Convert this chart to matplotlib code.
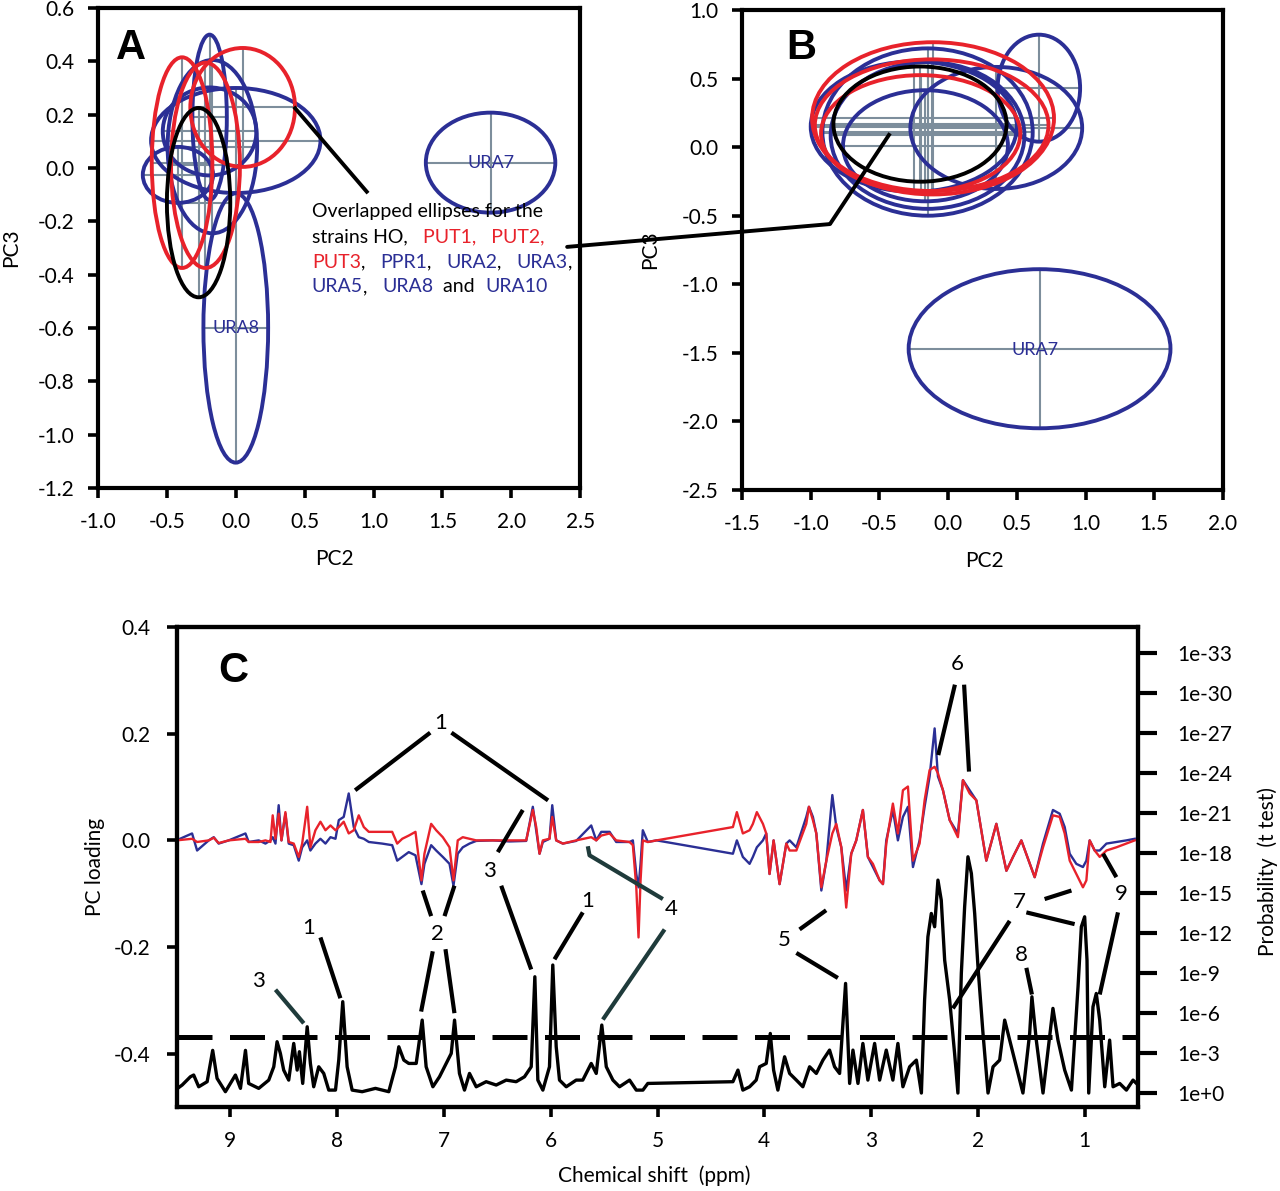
import matplotlib
matplotlib.use("Agg")
import matplotlib.pyplot as plt
from matplotlib.patches import Ellipse, ConnectionPatch
from matplotlib.ticker import FormatStrFormatter

plt.rcParams['font.family'] = ['Lato', 'DejaVu Sans']
plt.rcParams['axes.unicode_minus'] = False

BLUE = '#2b2f95'
RED = '#e8222b'
GREY = '#7d8e9c'
TEAL = '#1f3b3b'

# --- PCA score ellipses (centre, width, height) -----------------------------
strains = ["URA2", "URA3", "URA5", "URA10", "PPR1", "URA8", "URA7",
           "PUT1", "PUT2", "PUT3", "HO"]
strain_col = [BLUE] * 7 + [RED] * 3 + ['black']

# panel A: PC2 vs PC3
a_cx = [0.00, -0.17, -0.42, -0.19, -0.19, 0.00, 1.85, 0.05, -0.39, -0.22, -0.27]
a_cy = [0.103, 0.08, -0.026, 0.137, 0.19, -0.60, 0.02, 0.227, 0.02, 0.01, -0.13]
a_w = [1.23, 0.65, 0.51, 0.68, 0.25, 0.47, 0.94, 0.76, 0.44, 0.50, 0.46]
a_h = [0.394, 0.65, 0.21, 0.33, 0.62, 1.01, 0.375, 0.446, 0.79, 0.77, 0.71]

# panel B: PC2 vs PC3 (second model)
b_cx = [0.35, -0.15, -0.15, -0.25, 0.66, -0.165, 0.665, -0.11, -0.12, -0.20, -0.205]
b_cy = [0.14, 0.11, 0.085, 0.15, 0.43, 0.01, -1.47, 0.21, 0.16, 0.10, 0.168]
b_w = [1.25, 1.53, 1.41, 1.50, 0.60, 1.20, 1.905, 1.76, 1.70, 1.45, 1.26]
b_h = [0.89, 1.22, 1.07, 0.95, 0.78, 0.81, 1.16, 1.11, 0.96, 0.85, 0.84]

a_xticks = [-1.0, -0.5, 0.0, 0.5, 1.0, 1.5, 2.0, 2.5]
a_yticks = [-1.2, -1.0, -0.8, -0.6, -0.4, -0.2, 0.0, 0.2, 0.4, 0.6]
b_xticks = [-1.5, -1.0, -0.5, 0.0, 0.5, 1.0, 1.5, 2.0]
b_yticks = [-2.5, -2.0, -1.5, -1.0, -0.5, 0.0, 0.5, 1.0]

# --- panel C: PC loadings ---------------------------------------------------
ppm_load = [9.506, 9.359, 9.312, 9.203, 9.156, 9.110, 9.016, 8.859, 8.829, 8.735,
            8.672, 8.625, 8.604, 8.578, 8.548, 8.522, 8.485, 8.454, 8.407, 8.360,
            8.328, 8.281, 8.251, 8.204, 8.157, 8.110, 8.063, 8.016, 7.985, 7.939,
            7.892, 7.845, 7.798, 7.751, 7.704, 7.579, 7.485, 7.438, 7.391, 7.330,
            7.267, 7.211, 7.183, 7.120, 7.073, 7.011, 6.948, 6.911, 6.871, 6.824,
            6.761, 6.698, 6.543, 6.386, 6.230, 6.168, 6.136, 6.105, 6.074, 6.012,
            5.986, 5.949, 5.887, 5.762, 5.621, 5.574, 5.527, 5.449, 5.387, 5.262,
            5.231, 5.199, 5.178, 5.159, 5.138, 5.091, 5.009, 4.294, 4.257, 4.201,
            4.138, 4.107, 4.070, 4.013, 3.982, 3.951, 3.913, 3.857, 3.794, 3.763,
            3.700, 3.607, 3.582, 3.545, 3.513, 3.466, 3.419, 3.363, 3.326, 3.279,
            3.233, 3.186, 3.139, 3.077, 3.030, 2.983, 2.920, 2.889, 2.858, 2.796,
            2.749, 2.702, 2.655, 2.608, 2.546, 2.499, 2.452, 2.405, 2.374, 2.327,
            2.264, 2.187, 2.140, 2.077, 2.014, 1.921, 1.827, 1.733, 1.671, 1.593,
            1.468, 1.390, 1.297, 1.234, 1.187, 1.140, 1.078, 1.016, 0.984, 0.953,
            0.906, 0.859, 0.796, 0.703, 0.609, 0.531]
load_blue = [0, 0.013, -0.019, 0, 0.006, -0.006, 0, 0.013, -0.003, 0,
             -0.006, 0, 0.006, -0.006, 0.066, 0, 0.050, -0.006, -0.009, -0.038,
             -0.013, 0, -0.019, -0.006, 0.003, -0.006, 0.006, 0.003, 0.038, 0.044,
             0.088, 0.025, 0.006, 0.003, -0.003, -0.006, -0.009, -0.038, -0.031, -0.022,
             -0.028, -0.082, -0.044, -0.009, -0.019, -0.031, -0.044, -0.085, -0.025, -0.013,
             -0.006, -0.001, 0, -0.002, -0.001, 0.063, 0.019, -0.025, -0.003, 0.003,
             0.066, 0, -0.006, -0.001, 0.028, 0, 0.016, 0.016, -0.003, -0.003,
             0, -0.063, -0.088, -0.044, 0.019, -0.003, 0, -0.025, 0, -0.031,
             -0.044, -0.031, -0.013, 0, 0.013, -0.063, 0, -0.082, -0.006, 0,
             -0.013, 0.044, 0.063, 0.044, 0.013, -0.094, -0.038, 0.085, 0.025, -0.013,
             -0.094, -0.025, 0, 0.057, -0.031, -0.050, -0.075, -0.082, 0, 0.057,
             0, 0.044, 0.063, -0.050, 0, 0.063, 0.120, 0.210, 0.120, 0.094,
             0.038, 0.013, 0.113, 0.094, 0.075, -0.038, 0.031, -0.057, -0.031, 0,
             -0.069, -0.006, 0.057, 0.050, 0.025, -0.025, -0.044, -0.050, -0.038, 0,
             -0.019, -0.019, -0.006, -0.003, 0, 0.003]
load_red = [0, 0.003, -0.003, 0, 0.005, -0.005, 0, 0.003, -0.003, -0.003,
            0, -0.003, 0.047, 0.003, 0.050, 0, 0.053, -0.003, -0.006, -0.031,
            -0.006, 0.063, -0.013, 0.019, 0.035, 0.019, 0.028, 0.019, 0.025, 0.035,
            0.013, 0.019, 0.047, 0.025, 0.016, 0.016, 0.016, -0.006, 0.003, 0.009,
            0.016, -0.075, -0.025, 0.031, 0.019, 0.006, -0.013, -0.075, 0, 0.006,
            0.003, 0, 0, 0, 0, 0.057, 0.025, -0.025, 0, 0.003,
            0.044, 0, -0.006, 0, 0.006, 0, 0.009, 0.013, 0, -0.003,
            -0.009, -0.088, -0.182, -0.075, 0, -0.003, 0, 0.025, 0.053, 0.013,
            0.019, 0.031, 0.053, 0.031, 0.013, -0.063, 0, -0.082, -0.006, -0.019,
            -0.019, 0.031, 0.063, 0.038, 0.013, -0.088, -0.038, 0.013, 0.031, -0.013,
            -0.126, -0.025, 0, 0.057, -0.031, -0.044, -0.075, -0.082, -0.006, 0.069,
            0.013, 0.094, 0.101, -0.038, -0.006, 0.075, 0.132, 0.138, 0.126, 0.094,
            0.038, 0.006, 0.113, 0.088, 0.075, -0.038, 0.031, -0.057, -0.031, 0,
            -0.069, -0.013, 0.047, 0.044, 0.013, -0.038, -0.063, -0.088, -0.075, 0,
            -0.019, -0.031, -0.019, -0.013, -0.006, 0]

# --- panel C: t-test probability, as -log10(p) -------------------------------
ppm_p = [9.515, 9.452, 9.375, 9.344, 9.297, 9.218, 9.166, 9.125, 9.047, 8.953,
         8.906, 8.859, 8.829, 8.735, 8.641, 8.594, 8.563, 8.532, 8.501, 8.454,
         8.407, 8.375, 8.354, 8.323, 8.281, 8.251, 8.220, 8.173, 8.126, 8.079,
         8.016, 7.985, 7.948, 7.907, 7.860, 7.766, 7.642, 7.517, 7.454, 7.423,
         7.376, 7.330, 7.260, 7.204, 7.167, 7.104, 7.042, 6.979, 6.932, 6.901,
         6.855, 6.808, 6.761, 6.698, 6.605, 6.511, 6.417, 6.324, 6.246, 6.183,
         6.149, 6.121, 6.074, 6.012, 5.981, 5.949, 5.918, 5.855, 5.762, 5.700,
         5.621, 5.574, 5.522, 5.480, 5.418, 5.356, 5.262, 5.199, 5.137, 5.091,
         4.294, 4.247, 4.201, 4.138, 4.076, 4.044, 3.982, 3.944, 3.913, 3.873,
         3.810, 3.763, 3.700, 3.639, 3.576, 3.513, 3.451, 3.389, 3.342, 3.295,
         3.239, 3.201, 3.170, 3.123, 3.077, 3.030, 2.967, 2.920, 2.858, 2.796,
         2.749, 2.702, 2.639, 2.576, 2.529, 2.499, 2.468, 2.436, 2.405, 2.374,
         2.343, 2.311, 2.264, 2.218, 2.187, 2.155, 2.124, 2.093, 2.061, 2.030,
         1.999, 1.952, 1.905, 1.858, 1.796, 1.749, 1.702, 1.640, 1.578, 1.515,
         1.494, 1.453, 1.390, 1.297, 1.250, 1.187, 1.124, 1.062, 1.031, 1.000,
         0.978, 0.962, 0.922, 0.891, 0.859, 0.812, 0.766, 0.734, 0.672, 0.609,
         0.547, 0.515]
neg_log_p = [0.23, 0.6, 1.22, 1.35, 0.47, 0.85, 3.2, 1.1, 0.1, 1.35,
             0.35, 3.2, 0.72, 0.35, 0.97, 1.97, 3.85, 2.97, 1.72, 0.97,
             3.72, 1.72, 3.1, 0.72, 4.97, 2.22, 0.47, 1.97, 1.47, 0.22,
             0.22, 2.5, 6.85, 1.97, 0.22, 0.1, 0.35, 0.1, 1.97, 3.47,
             2.47, 2.22, 2.22, 5.47, 1.97, 0.47, 1.22, 2.22, 2.97, 5.47,
             1.47, 0.22, 1.47, 0.47, 0.85, 0.6, 0.97, 0.85, 1.22, 1.97,
             8.72, 0.97, 0.22, 1.97, 9.6, 3.47, 0.97, 0.47, 0.97, 0.97,
             2.22, 1.47, 5.1, 1.97, 0.97, 0.47, 0.97, 0.22, 0.22, 0.72,
             0.85, 1.72, 0.22, 0.47, 0.97, 1.97, 2.22, 4.47, 1.72, 0.22,
             2.72, 1.47, 0.97, 0.47, 1.97, 1.47, 2.47, 3.22, 1.97, 1.47,
             8.22, 0.72, 3.22, 0.72, 3.72, 0.97, 3.72, 0.97, 3.22, 0.97,
             3.72, 0.47, 1.97, 2.47, 0.0, 6.97, 11.72, 13.47, 12.47, 15.97,
             14.47, 9.97, 6.97, 2.97, 0.0, 8.97, 13.97, 17.72, 16.47, 13.47,
             9.47, 4.47, 0.0, 1.97, 2.47, 5.47, 3.97, 1.97, 0.0, 4.47,
             7.22, 3.97, 0.0, 6.35, 3.97, 1.72, 0.22, 7.97, 12.47, 13.22,
             9.97, 0.0, 6.47, 7.47, 5.47, 0.47, 3.97, 0.47, 0.72, 0.22,
             0.97, 0.72]
p_threshold = 4.2   # -log10(p) of the dashed significance line

# peak labels in panel C (ppm, loading)
peak_labels = ["1", "2", "3", "1", "4", "3", "1", "5", "6", "7", "8", "9"]
peak_lab_x = [7.033, 7.062, 6.574, 5.653, 4.872, 8.735, 8.267, 3.810, 2.197, 1.609, 1.593, 0.656]
peak_lab_y = [0.221, -0.176, -0.057, -0.113, -0.129, -0.264, -0.164, -0.186, 0.330, -0.116, -0.214, -0.101]
# leader lines (x0, y0, x1, y1) in ppm / loading
leaders = [(7.129, 0.202, 7.832, 0.094), (6.930, 0.202, 6.025, 0.075),
           (7.199, -0.094, 7.120, -0.142), (6.902, -0.085, 6.995, -0.142),
           (7.105, -0.208, 7.214, -0.321), (6.986, -0.204, 6.902, -0.324),
           (6.262, 0.057, 6.496, -0.022), (6.464, -0.085, 6.183, -0.242),
           (5.700, -0.135, 5.965, -0.223), (8.157, -0.182, 7.970, -0.296),
           (3.670, -0.167, 3.421, -0.131), (3.700, -0.211, 3.311, -0.258),
           (2.215, 0.292, 2.371, 0.160), (2.129, 0.292, 2.083, 0.129),
           (1.375, -0.110, 1.124, -0.094), (1.546, -0.135, 1.094, -0.157),
           (1.702, -0.151, 2.234, -0.315), (1.546, -0.239, 1.494, -0.289),
           (0.828, -0.025, 0.703, -0.069), (0.688, -0.135, 0.859, -0.289)]
teal_leaders = [([4.950, 5.637, 5.653], [-0.110, -0.028, -0.011]),
                ([4.934, 5.512], [-0.167, -0.336]),
                ([8.578, 8.313], [-0.280, -0.343])]


def draw_ellipses(ax, cx, cy, w, h):
    for x, y, ww, hh in zip(cx, cy, w, h):
        ax.plot([x - ww / 2, x + ww / 2], [y, y], color=GREY, lw=1.5, zorder=1)
        ax.plot([x, x], [y - hh / 2, y + hh / 2], color=GREY, lw=1.5, zorder=1)
    for x, y, ww, hh, c in zip(cx, cy, w, h, strain_col):
        ax.add_patch(Ellipse((x, y), ww, hh, fill=False, ec=c, lw=2.8, zorder=2))


def style_box(ax):
    for s in ax.spines.values():
        s.set_linewidth(3.0)
    ax.tick_params(direction='out', length=7, width=2.6, labelsize=15, pad=10)


def colored_line(ax, x, y, parts, size=14):
    t = ax.text(x, y, parts[0][0], color=parts[0][1], fontsize=size,
                va='center', ha='left', zorder=6)
    for s, c in parts[1:]:
        t = ax.annotate(s, xy=(1, 0), xycoords=t, va='bottom', ha='left',
                        color=c, fontsize=size, zorder=6)
    return t


fig = plt.figure(figsize=(12.8, 11.91), dpi=100)

# ---------------- panel A ----------------
axA = fig.add_axes([0.0766, 0.5903, 0.3766, 0.4030])
draw_ellipses(axA, a_cx, a_cy, a_w, a_h)
axA.set_xlim(-1.0, 2.5)
axA.set_ylim(-1.2, 0.6)
axA.set_xticks(a_xticks)
axA.set_yticks(a_yticks)
axA.xaxis.set_major_formatter(FormatStrFormatter('%.1f'))
axA.yaxis.set_major_formatter(FormatStrFormatter('%.1f'))
style_box(axA)
axA.set_xlabel("PC2", fontsize=15)
axA.set_ylabel("PC3", fontsize=15)
axA.xaxis.set_label_coords(0.49, -0.128)
axA.yaxis.set_label_coords(-0.160, 0.5)
axA.text(0.068, 0.917, "A", transform=axA.transAxes, fontsize=30, fontweight='bold',
         family='Liberation Sans', ha='center', va='center')
i7 = strains.index("URA7")
i8 = strains.index("URA8")
axA.text(a_cx[i7], a_cy[i7], "URA7", color=BLUE, fontsize=13, ha='center', va='center', zorder=3)
axA.text(a_cx[i8], a_cy[i8], "URA8", color=BLUE, fontsize=13, ha='center', va='center', zorder=3)

axA.plot([0.431, 0.951], [0.224, -0.089], color='k', lw=2.8, zorder=5)
colored_line(axA, 0.552, -0.165, [("Overlapped ellipses for the", 'k')])
colored_line(axA, 0.552, -0.259, [("strains HO,   ", 'k'), ("PUT1,   PUT2,", RED)])
colored_line(axA, 0.552, -0.353, [("PUT3", RED), (",   ", 'k'), ("PPR1", BLUE), (",   ", 'k'),
                                  ("URA2", BLUE), (",   ", 'k'), ("URA3", BLUE), (",", 'k')])
colored_line(axA, 0.552, -0.446, [("URA5", BLUE), (",   ", 'k'), ("URA8", BLUE),
                                  ("  and  ", 'k'), ("URA10", BLUE)])

# ---------------- panel B ----------------
axB = fig.add_axes([0.5797, 0.5886, 0.3758, 0.4030])
draw_ellipses(axB, b_cx, b_cy, b_w, b_h)
axB.set_xlim(-1.5, 2.0)
axB.set_ylim(-2.5, 1.0)
axB.set_xticks(b_xticks)
axB.set_yticks(b_yticks)
axB.xaxis.set_major_formatter(FormatStrFormatter('%.1f'))
axB.yaxis.set_major_formatter(FormatStrFormatter('%.1f'))
style_box(axB)
axB.set_xlabel("PC2", fontsize=15)
axB.set_ylabel("PC3", fontsize=15)
axB.xaxis.set_label_coords(0.505, -0.128)
axB.yaxis.set_label_coords(-0.170, 0.5)
axB.text(0.123, 0.921, "B", transform=axB.transAxes, fontsize=30, fontweight='bold',
         family='Liberation Sans', ha='center', va='center')
axB.text(b_cx[i7] - 0.03, b_cy[i7] - 0.01, "URA7", color=BLUE, fontsize=13,
         ha='center', va='center', zorder=3)

# leader from the note in A to the overlapped cluster in B
con = ConnectionPatch(xyA=(2.406, -0.296), coordsA=axA.transData,
                      xyB=(-0.86, -0.561), coordsB=axB.transData,
                      color='k', lw=2.8, zorder=6)
fig.add_artist(con)
axB.plot([-0.86, -0.423], [-0.561, 0.101], color='k', lw=2.8, zorder=5,
         solid_capstyle='butt')

# ---------------- panel C ----------------
axC = fig.add_axes([0.1383, 0.0705, 0.7508, 0.4030])
axC.plot(ppm_load, load_blue, color=BLUE, lw=1.7, zorder=3)
axC.plot(ppm_load, load_red, color=RED, lw=1.7, zorder=3)
axC.set_xlim(9.5, 0.5)
axC.set_ylim(-0.5, 0.4)
axC.set_xticks(range(1, 10))
axC.set_yticks([-0.4, -0.2, 0.0, 0.2, 0.4])
axC.yaxis.set_major_formatter(FormatStrFormatter('%.1f'))
for s in axC.spines.values():
    s.set_linewidth(3.0)
axC.tick_params(direction='out', length=7, width=2.6, labelsize=15)
axC.tick_params(axis='x', pad=10)
axC.tick_params(axis='y', pad=12)
axC.set_xlabel("Chemical shift  (ppm)", fontsize=15)
axC.set_ylabel("PC loading", fontsize=15)
axC.xaxis.set_label_coords(0.497, -0.122)
axC.yaxis.set_label_coords(-0.075, 0.5)

for x0, y0, x1, y1 in leaders:
    axC.plot([x0, x1], [y0, y1], color='k', lw=3, solid_capstyle='butt', zorder=4)
for xs, ys in teal_leaders:
    axC.plot(xs, ys, color=TEAL, lw=3, solid_capstyle='butt', zorder=4)
for lab, x, y in zip(peak_labels, peak_lab_x, peak_lab_y):
    axC.text(x, y, lab, fontsize=16, ha='center', va='center', zorder=5)
axC.text(0.059, 0.908, "C", transform=axC.transAxes, fontsize=30, fontweight='bold',
         family='Liberation Sans', ha='center', va='center')

ax2 = axC.twinx()
ax2.plot(ppm_p, neg_log_p, color='k', lw=2.4, zorder=3)
ax2.axhline(p_threshold, color='k', lw=3.6, linestyle=(0, (7, 3.5)))
ax2.set_ylim(-1.05, 34.95)
p_ticks = list(range(0, 34, 3))
ax2.set_yticks(p_ticks)
ax2.set_yticklabels(["1e+0" if v == 0 else "1e-%d" % v for v in p_ticks])
ax2.tick_params(axis='y', direction='out', length=14, width=3, labelsize=15, pad=14)
for s in ax2.spines.values():
    s.set_linewidth(3.0)
ax2.set_ylabel("Probability  (t test)", fontsize=15)
ax2.yaxis.set_label_coords(1.124, 0.49)

fig.savefig("out.png", dpi=100)
